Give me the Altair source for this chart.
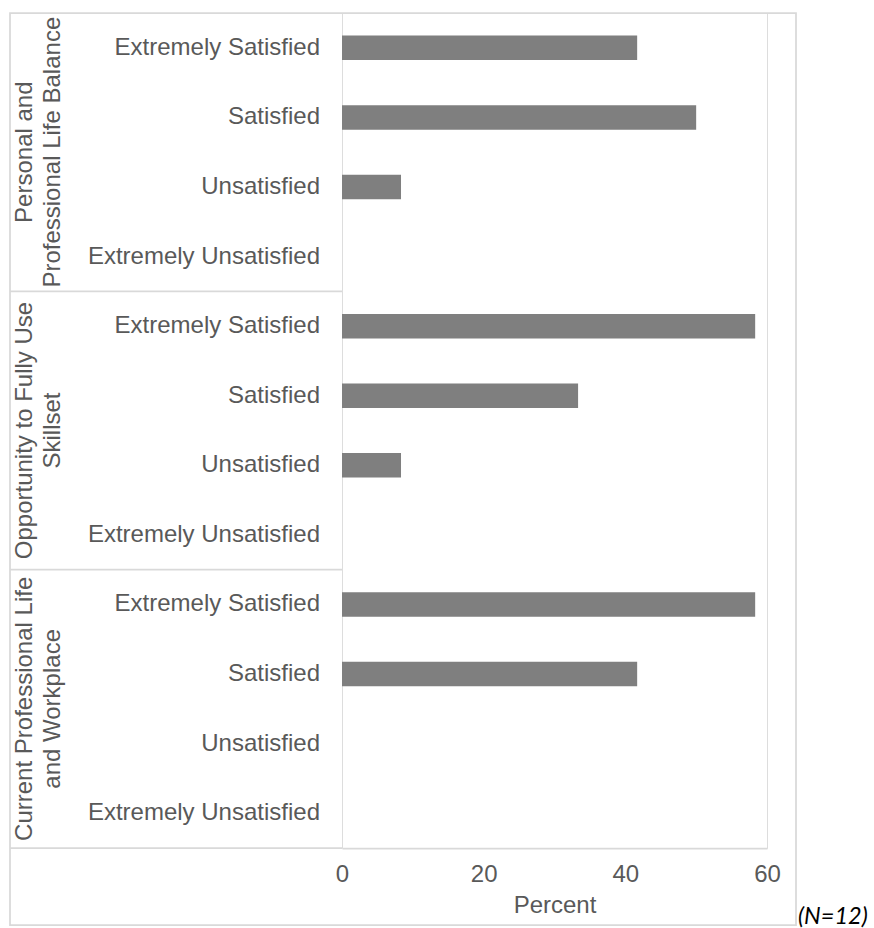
import altair as alt
import pandas as pd

# Survey groups (two-line labels) and the four answer categories
group_labels = [
    "Personal and\nProfessional Life Balance",
    "Opportunity to Fully Use\nSkillset",
    "Current Professional Life\nand Workplace",
]
categories = ["Extremely Satisfied", "Satisfied", "Unsatisfied", "Extremely Unsatisfied"]

# Percent of respondents per category (N=12)
percent_balance = [41.67, 50.0, 8.33, 0.0]
percent_skillset = [58.33, 33.33, 8.33, 0.0]
percent_workplace = [58.33, 41.67, 0.0, 0.0]

x_ticks = [0, 20, 40, 60]
sample_note = "(N=12)"

TEXT = "#595959"
LINE = "#d9d9d9"
FONT = "Liberation Sans"

rows = []
for gi, (g, vals) in enumerate(zip(group_labels, [percent_balance, percent_skillset, percent_workplace])):
    for c, v in zip(categories, vals):
        rows.append({"key": f"{gi}|{c}", "group": g, "category": c, "percent": v})
df = pd.DataFrame(rows)
keys = list(df["key"])

y_scale = alt.Scale(domain=keys, paddingInner=0, paddingOuter=0)

bars = alt.Chart(df).mark_bar(size=24.5, color="#7f7f7f").encode(
    x=alt.X(
        "percent:Q",
        scale=alt.Scale(domain=[0, 60], nice=False),
        axis=alt.Axis(
            values=x_ticks, title="Percent", grid=False, ticks=False,
            domainColor=LINE, domainWidth=1.75, labelFlush=False,
            labelFontSize=24, labelColor=TEXT, labelPadding=14,
            titleFontSize=24, titleColor=TEXT, titleFontWeight="normal", titlePadding=7,
        ),
    ),
    y=alt.Y(
        "key:N", scale=y_scale, sort=keys,
        axis=alt.Axis(title=None, ticks=False, labels=False, domainColor=LINE, domainWidth=1.75),
    ),
)

# Category names to the left of the bars
cat_text = alt.Chart(df).mark_text(
    fontSize=24, color=TEXT, align="right", baseline="middle",
).encode(
    y=alt.Y("key:N", scale=y_scale, axis=None),
    x=alt.value(-22),
    text="category:N",
)

# Horizontal dividers below each group in the label area
seps = alt.Chart(df[df["category"] == categories[-1]]).mark_rule(color=LINE, strokeWidth=1.75).encode(
    y=alt.Y("key:N", scale=y_scale, bandPosition=1, axis=None),
    x=alt.value(-332),
    x2=alt.value(0),
)

# Rotated group labels, centred on each group
group_text = alt.Chart(df[df["category"] == categories[1]]).mark_text(
    angle=270, fontSize=24, lineHeight=27.5, lineBreak="\n", color=TEXT,
    align="center", baseline="middle",
).encode(
    y=alt.Y("key:N", scale=y_scale, bandPosition=1, axis=None),
    x=alt.value(-317),
    text="group:N",
)

one = pd.DataFrame({"k": [0]})

# Outer frame of the chart area
frame = alt.Chart(one).mark_rect(fillOpacity=0, stroke=LINE, strokeWidth=1.75).encode(
    x=alt.value(-332), x2=alt.value(454), y=alt.value(0), y2=alt.value(912),
)

note = alt.Chart(one).mark_text(
    text=sample_note, fontSize=23.5, fontStyle="italic", font="Lato", color="#000000",
    align="left", baseline="middle",
).encode(x=alt.value(456), y=alt.value(904))

chart = alt.layer(frame, bars, cat_text, seps, group_text, note).properties(
    width=425,
    height=835,
    padding={"left": 342, "top": 13, "right": 107, "bottom": 80},
    autosize=alt.AutoSizeParams(type="none"),
    background="white",
).configure_view(stroke=None).configure(font=FONT)

chart.save("out.html", embed_options={"renderer": "svg", "actions": False})
